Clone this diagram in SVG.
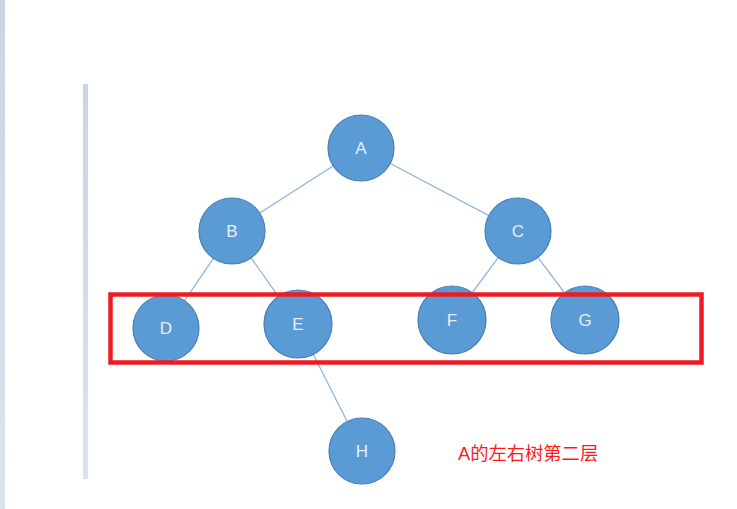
<svg xmlns="http://www.w3.org/2000/svg" width="737" height="509" viewBox="0 0 737 509">
<defs>
<linearGradient id="bar" x1="0" y1="0" x2="0" y2="1">
<stop offset="0" stop-color="#c9d4e5"/>
<stop offset="1" stop-color="#dbe3f0"/>
</linearGradient>
</defs>
<style>
.n circle{fill:#5b9bd5;stroke:#4a7fb5;stroke-width:1.2}
.n text{fill:#e6eef9;font-family:"Liberation Sans",Arial,sans-serif;font-size:17px;text-anchor:middle}
#edges line{stroke:#8fb4da;stroke-width:1.3}
</style>
<rect width="737" height="509" fill="#ffffff"/>
<rect x="0" y="0" width="5" height="509" fill="url(#bar)"/>
<rect x="83" y="84" width="5" height="395" fill="url(#bar)"/>
<g id="edges">
<line x1="361" y1="148" x2="232" y2="231"/>
<line x1="361" y1="148" x2="518" y2="231"/>
<line x1="232" y1="231" x2="166" y2="328"/>
<line x1="232" y1="231" x2="298" y2="324"/>
<line x1="518" y1="231" x2="452" y2="320"/>
<line x1="518" y1="231" x2="585" y2="320"/>
<line x1="298" y1="324" x2="362" y2="451"/>
</g>
<g id="A" class="n"><circle cx="361" cy="148" r="33"/><text x="361" y="154">A</text></g>
<g id="B" class="n"><circle cx="232" cy="231" r="33"/><text x="232" y="237">B</text></g>
<g id="C" class="n"><circle cx="518" cy="231" r="33"/><text x="518" y="237">C</text></g>
<g id="D" class="n"><circle cx="166" cy="328" r="33"/><text x="166" y="334">D</text></g>
<g id="E" class="n"><circle cx="298" cy="324" r="34"/><text x="298" y="330">E</text></g>
<g id="F" class="n"><circle cx="452" cy="320" r="34"/><text x="452" y="326">F</text></g>
<g id="G" class="n"><circle cx="585" cy="320" r="34"/><text x="585" y="326">G</text></g>
<g id="H" class="n"><circle cx="362" cy="451" r="33"/><text x="362" y="457">H</text></g>
<rect id="box" x="110.5" y="294.5" width="591" height="68" fill="none" stroke="#ed1c24" stroke-width="4.5"/>
<text id="label" x="458" y="460" fill="#ff1a1a" font-family="'Liberation Sans','Noto Sans CJK SC',sans-serif" font-size="18.3">A的左右树第二层</text>
</svg>
